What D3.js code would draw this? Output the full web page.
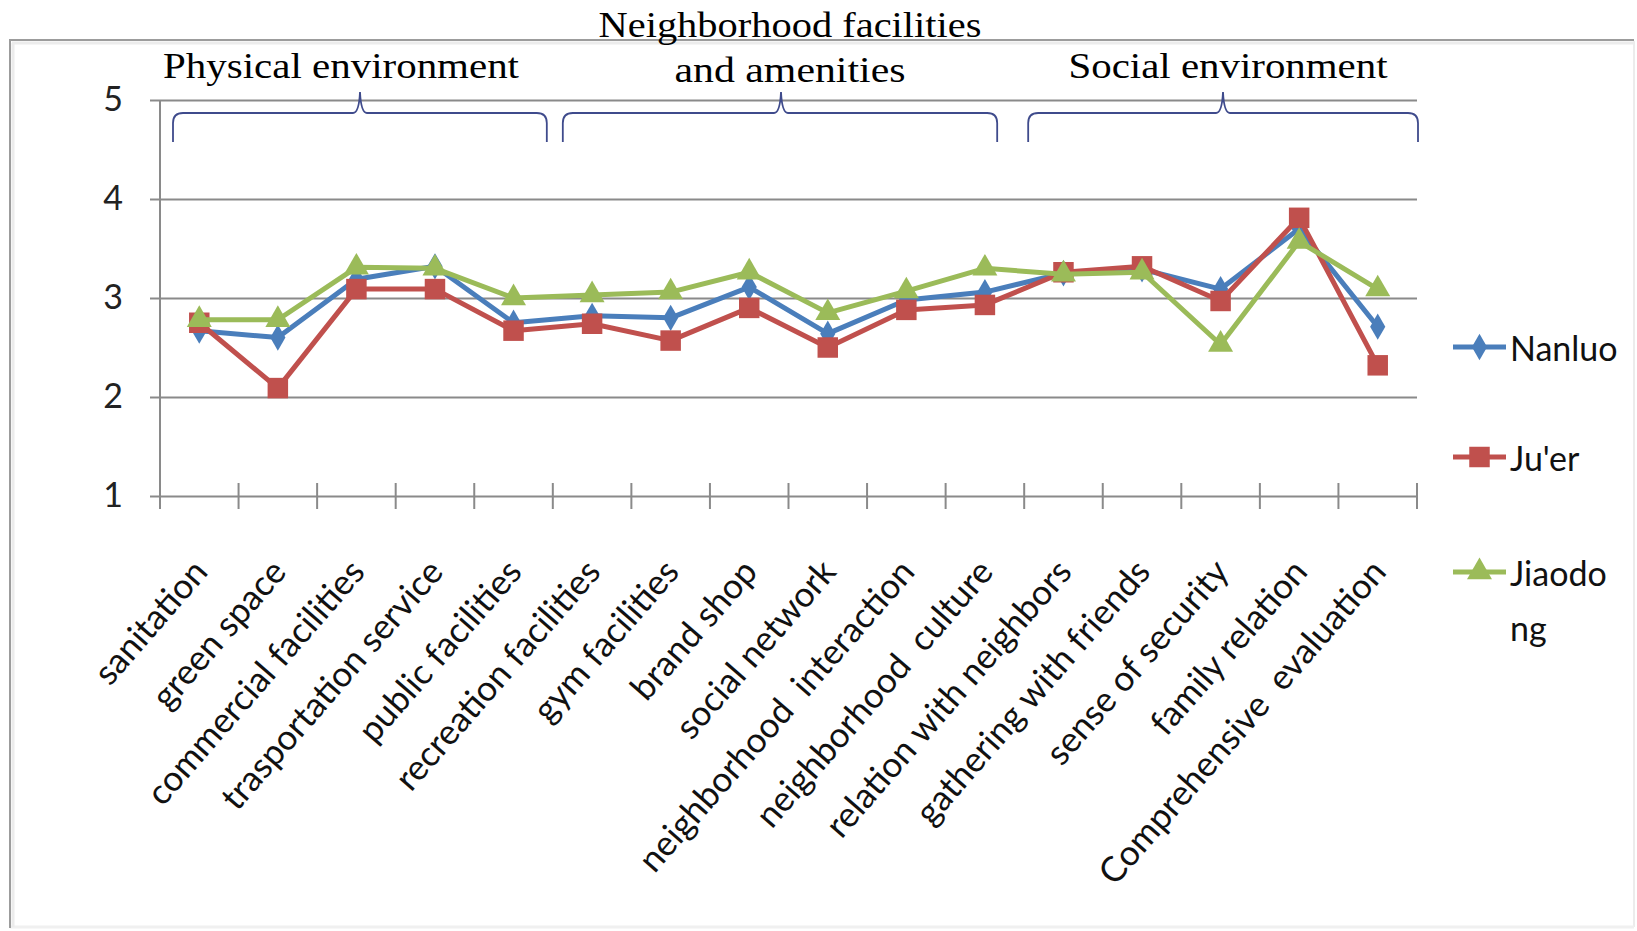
<!DOCTYPE html>
<html>
<head>
<meta charset="utf-8">
<script src="https://cdn.jsdelivr.net/npm/d3@7"></script>
<style>
  html, body { margin: 0; padding: 0; background: #fff; }
  svg { display: block; }
</style>
</head>
<body>
<svg id="chart" width="1637" height="931"></svg>
<script>
// Satisfaction scores of three neighbourhoods across 16 indicators
const categories = [
  "sanitation", "green space", "commercial facilities", "trasportation service",
  "public facilities", "recreation facilities", "gym facilities", "brand shop",
  "social network", "neighborhood  interaction", "neighborhood  culture",
  "relation with neighbors", "gathering with friends", "sense of security",
  "family relation", "Comprehensive  evaluation"
];
const nanluo   = [2.67, 2.60, 3.19, 3.32, 2.75, 2.82, 2.80, 3.11, 2.64, 2.98, 3.06, 3.25, 3.29, 3.09, 3.70, 2.71];
const juer     = [2.75, 2.09, 3.09, 3.09, 2.67, 2.74, 2.57, 2.90, 2.50, 2.88, 2.93, 3.26, 3.32, 2.97, 3.81, 2.32];
const jiaodong = [2.78, 2.78, 3.31, 3.30, 3.00, 3.03, 3.06, 3.26, 2.85, 3.07, 3.30, 3.24, 3.26, 2.53, 3.57, 3.09];
const yTicks = [1, 2, 3, 4, 5];

// Indicator groups: first and last category index covered by each brace
const groupNames = [["Physical environment"], ["Neighborhood facilities", "and amenities"], ["Social environment"]];
const groupSpans = [[0, 4], [5, 10], [11, 15]];

const series = [
  { name: "Nanluo",   values: nanluo,   color: "#4a7ebb", symbol: d3.symbolDiamond,  size: 200 },
  { name: "Ju'er",    values: juer,     color: "#c0504d", symbol: d3.symbolSquare,   size: 420 },
  { name: "Jiaodong", values: jiaodong, color: "#9bbb59", symbol: d3.symbolTriangle, size: 270 }
];

const svg = d3.select("#chart");
const plot = { left: 160, right: 1417, top: 100, bottom: 496 };

// outer chart frame: darker top/left edges, faint right/bottom edges
const frame = svg.append("g");
frame.append("line").attr("x1", 1634).attr("x2", 1634).attr("y1", 41).attr("y2", 927)
  .attr("stroke", "#ececec").attr("stroke-width", 2);
frame.append("line").attr("x1", 10).attr("x2", 1634).attr("y1", 927).attr("y2", 927)
  .attr("stroke", "#f0f0f0").attr("stroke-width", 3);
frame.append("line").attr("x1", 12).attr("x2", 1634).attr("y1", 43).attr("y2", 43)
  .attr("stroke", "#ececec").attr("stroke-width", 3);
frame.append("line").attr("x1", 13).attr("x2", 13).attr("y1", 43).attr("y2", 927)
  .attr("stroke", "#ececec").attr("stroke-width", 3);
frame.append("path").attr("d", "M10,928V40H1634")
  .attr("fill", "none").attr("stroke", "#9c9c9c").attr("stroke-width", 2);

const x = d3.scaleBand().domain(categories).range([plot.left, plot.right]).paddingInner(0).paddingOuter(0);
const y = d3.scaleLinear().domain([1, 5]).range([plot.bottom, plot.top]);
const cx = c => x(c) + x.bandwidth() / 2;

// horizontal gridlines + left axis
const yAxis = d3.axisLeft(y).tickValues(yTicks).tickSize(10).tickPadding(27).tickFormat(d3.format("d"));
const gy = svg.append("g").attr("transform", `translate(${plot.left},0)`).call(yAxis);
gy.select(".domain").attr("stroke", "#8a8a8a").attr("stroke-width", 2)
  .attr("d", `M0,${plot.top}V${plot.bottom + 13}`);
gy.selectAll(".tick line").attr("stroke", "#8a8a8a").attr("stroke-width", 2);
gy.selectAll(".tick text")
  .attr("font-family", "Lato, 'Open Sans', sans-serif").attr("font-size", 34).attr("fill", "#222");
gy.selectAll(".tick").append("line")
  .attr("x1", 0).attr("x2", plot.right - plot.left)
  .attr("stroke", "#8a8a8a").attr("stroke-width", 2);

// category axis with crossing tick marks at band boundaries
const bounds = categories.map(c => x(c)).concat([plot.right]);
const gx = svg.append("g");
gx.selectAll("line.tk").data(bounds).join("line").attr("class", "tk")
  .attr("x1", d => d).attr("x2", d => d)
  .attr("y1", plot.bottom - 13).attr("y2", plot.bottom + 13)
  .attr("stroke", "#8a8a8a").attr("stroke-width", 2);

gx.selectAll("text.cat").data(categories).join("text").attr("class", "cat")
  .attr("transform", d => `translate(${cx(d) + 10},${plot.bottom + 77}) rotate(-49)`)
  .attr("text-anchor", "end")
  .attr("font-family", "Lato, 'Open Sans', sans-serif").attr("font-size", 35).attr("fill", "#111")
  .style("white-space", "pre")
  .text(d => d);

// series lines and markers
const line = d3.line().x((d, i) => cx(categories[i])).y(d => y(d));
series.forEach(s => {
  const g = svg.append("g");
  g.append("path").datum(s.values).attr("d", line)
    .attr("fill", "none").attr("stroke", s.color).attr("stroke-width", 5).attr("stroke-linejoin", "round");
  g.selectAll("path.m").data(s.values).join("path").attr("class", "m")
    .attr("d", d3.symbol().type(s.symbol).size(s.size))
    .attr("transform", (d, i) => `translate(${cx(categories[i])},${y(d)})`)
    .attr("fill", s.color);
});

// group braces
function bracePath(x0, x1, xt) {
  const yh = 113, yb = 142, yt = 92, r = 10;
  return `M${x0},${yb} L${x0},${yh + r} Q${x0},${yh} ${x0 + r},${yh}` +
    ` L${xt - 7},${yh} Q${xt - 1},${yh} ${xt},${yt} Q${xt + 1},${yh} ${xt + 7},${yh}` +
    ` L${x1 - r},${yh} Q${x1},${yh} ${x1},${yh + r} L${x1},${yb}`;
}
const braceInsets = [[13, 6], [10, 27], [4, -1]];
const braceTips = [360, 781, 1223];
const gb = svg.append("g");
groupSpans.forEach(([a, b], k) => {
  const x0 = x(categories[a]) + braceInsets[k][0];
  const x1 = x(categories[b]) + x.bandwidth() - braceInsets[k][1];
  gb.append("path").attr("d", bracePath(x0, x1, braceTips[k]))
    .attr("fill", "none").attr("stroke", "#3f4b8c").attr("stroke-width", 1.8);
});

// group titles
const titleSpec = [
  [{ cx: 341, base: 78, w: 356 }],
  [{ cx: 790, base: 37, w: 383 }, { cx: 790, base: 82, w: 231 }],
  [{ cx: 1228, base: 78, w: 319 }]
];
groupNames.forEach((lines, k) => {
  lines.forEach((t, j) => {
    const sp = titleSpec[k][j];
    svg.append("text").attr("x", sp.cx - sp.w / 2).attr("y", sp.base)
      .attr("textLength", sp.w).attr("lengthAdjust", "spacingAndGlyphs")
      .attr("font-family", "'Liberation Serif', 'DejaVu Serif', serif").attr("font-size", 36)
      .attr("fill", "#000").text(t);
  });
});

// legend
const legendY = [347, 457, 572];
const lg = svg.append("g");
series.forEach((s, i) => {
  const ly = legendY[i];
  lg.append("line").attr("x1", 1453).attr("x2", 1506).attr("y1", ly).attr("y2", ly)
    .attr("stroke", s.color).attr("stroke-width", 5);
  lg.append("path").attr("d", d3.symbol().type(s.symbol).size(s.size))
    .attr("transform", `translate(1479.5,${ly})`).attr("fill", s.color);
});
const legendLines = [["Nanluo"], ["Ju'er"], ["Jiaodo", "ng"]];
legendLines.forEach((ls, i) => {
  ls.forEach((t, j) => {
    lg.append("text").attr("x", 1510).attr("y", legendY[i] + j * 55)
      .attr("dominant-baseline", "central")
      .attr("font-family", "Lato, 'Open Sans', sans-serif").attr("font-size", 34).attr("fill", "#111")
      .text(t);
  });
});
</script>
</body>
</html>
